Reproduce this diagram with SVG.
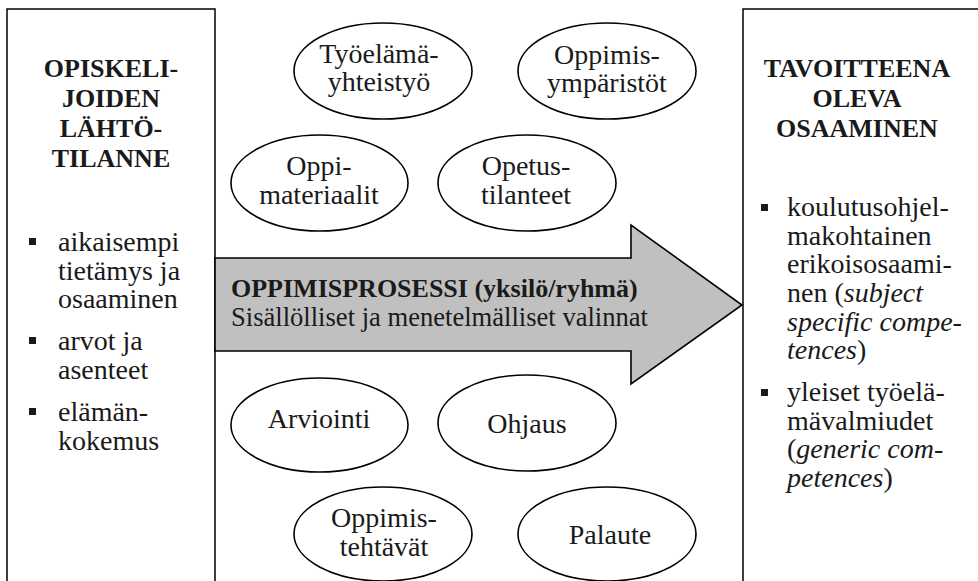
<svg xmlns="http://www.w3.org/2000/svg" width="978" height="581" viewBox="0 0 978 581" font-family="Tinos, 'Times New Roman', 'Liberation Serif', serif">
<defs>
<style>
.panel{fill:none;stroke:#000;stroke-width:1.5;}
.oval{fill:#fff;stroke:#000;stroke-width:1.6;}
.square{fill:#1a1a1a;}
</style>
</defs>
<rect width="978" height="581" fill="#fff"/>

<g id="start">
<path class="panel" d="M7,585 V9 H215 V585"/>
<g font-size="26" font-weight="bold" text-anchor="middle" fill="#1a1a1a">
<text x="111" y="77" font-family="'Liberation Serif'">OPISKELI-</text>
<text x="111" y="107" font-family="'Liberation Serif'">JOIDEN</text>
<text x="111" y="137" font-family="'Liberation Serif'">LÄHTÖ-</text>
<text x="111" y="167" font-family="'Liberation Serif'">TILANNE</text>
</g>
<rect class="square" x="29" y="238" width="7" height="7"/>
<rect class="square" x="29" y="337" width="7" height="7"/>
<rect class="square" x="29" y="408" width="7" height="7"/>
<g font-size="28" fill="#1a1a1a" font-family="Tinos, 'Times New Roman', 'Liberation Serif', serif">
<text x="58" y="251">aikaisempi</text>
<text x="58" y="280">tietämys ja</text>
<text x="58" y="308">osaaminen</text>
<text x="58" y="350">arvot ja</text>
<text x="58" y="379">asenteet</text>
<text x="58" y="421">elämän-</text>
<text x="58" y="450">kokemus</text>
</g>
</g>

<g id="target">
<path class="panel" d="M743,585 V9 H985"/>
<g font-size="26" font-weight="bold" text-anchor="middle" fill="#1a1a1a">
<text x="857" y="77" font-family="'Liberation Serif'">TAVOITTEENA</text>
<text x="857" y="107" font-family="'Liberation Serif'">OLEVA</text>
<text x="857" y="137" font-family="'Liberation Serif'">OSAAMINEN</text>
</g>
<rect class="square" x="761" y="204" width="7" height="7"/>
<rect class="square" x="761" y="389" width="7" height="7"/>
<g font-size="28" fill="#1a1a1a" font-family="Tinos, 'Times New Roman', 'Liberation Serif', serif">
<text x="787" y="216">koulutusohjel-</text>
<text x="787" y="245">makohtainen</text>
<text x="787" y="273">erikoisosaami-</text>
<text x="787" y="302">nen (<tspan font-style="italic">subject</tspan></text>
<text x="787" y="331" font-style="italic">specific compe-</text>
<text x="787" y="359"><tspan font-style="italic">tences</tspan>)</text>
<text x="787" y="401">yleiset työelä-</text>
<text x="787" y="430">mävalmiudet</text>
<text x="787" y="458">(<tspan font-style="italic">generic com-</tspan></text>
<text x="787" y="487"><tspan font-style="italic">petences</tspan>)</text>
</g>
</g>

<g id="process">
<polygon points="215,258 631,258 631,225 742,305 631,384 631,351 215,351" fill="#c0c0c0" stroke="#000" stroke-width="1.6"/>
<text x="231" y="297" font-size="26" font-weight="bold" fill="#1a1a1a" font-family="'Liberation Serif'">OPPIMISPROSESSI (yksilö/ryhmä)</text>
<text x="231" y="326" font-size="28" fill="#1a1a1a" font-family="Tinos, 'Times New Roman', 'Liberation Serif', serif" textLength="417" lengthAdjust="spacingAndGlyphs">Sisällölliset ja menetelmälliset valinnat</text>
</g>

<g id="ovals" font-size="28" text-anchor="middle" fill="#1a1a1a" font-family="Tinos, 'Times New Roman', 'Liberation Serif', serif">
<g id="tyoelama">
<ellipse class="oval" cx="383" cy="71" rx="89" ry="48"/>
<text x="379" y="63">Työelämä-</text>
<text x="379" y="91">yhteistyö</text>
</g>
<g id="oppimisymparistot">
<ellipse class="oval" cx="607" cy="71" rx="89" ry="48"/>
<text x="607" y="64">Oppimis-</text>
<text x="607" y="92">ympäristöt</text>
</g>
<g id="oppimateriaalit">
<ellipse class="oval" cx="319.5" cy="183" rx="88.5" ry="48"/>
<text x="319" y="175">Oppi-</text>
<text x="319" y="204">materiaalit</text>
</g>
<g id="opetustilanteet">
<ellipse class="oval" cx="527" cy="183" rx="89" ry="48"/>
<text x="526" y="175">Opetus-</text>
<text x="526" y="204">tilanteet</text>
</g>
<g id="arviointi">
<ellipse class="oval" cx="319.5" cy="425" rx="88.5" ry="47"/>
<text x="319" y="428">Arviointi</text>
</g>
<g id="ohjaus">
<ellipse class="oval" cx="527" cy="423" rx="89" ry="48"/>
<text x="527" y="433">Ohjaus</text>
</g>
<g id="oppimistehtavat">
<ellipse class="oval" cx="383" cy="534" rx="89" ry="47"/>
<text x="384" y="527">Oppimis-</text>
<text x="384" y="556">tehtävät</text>
</g>
<g id="palaute">
<ellipse class="oval" cx="607" cy="534" rx="89" ry="47"/>
<text x="610" y="544">Palaute</text>
</g>
</g>
</svg>
